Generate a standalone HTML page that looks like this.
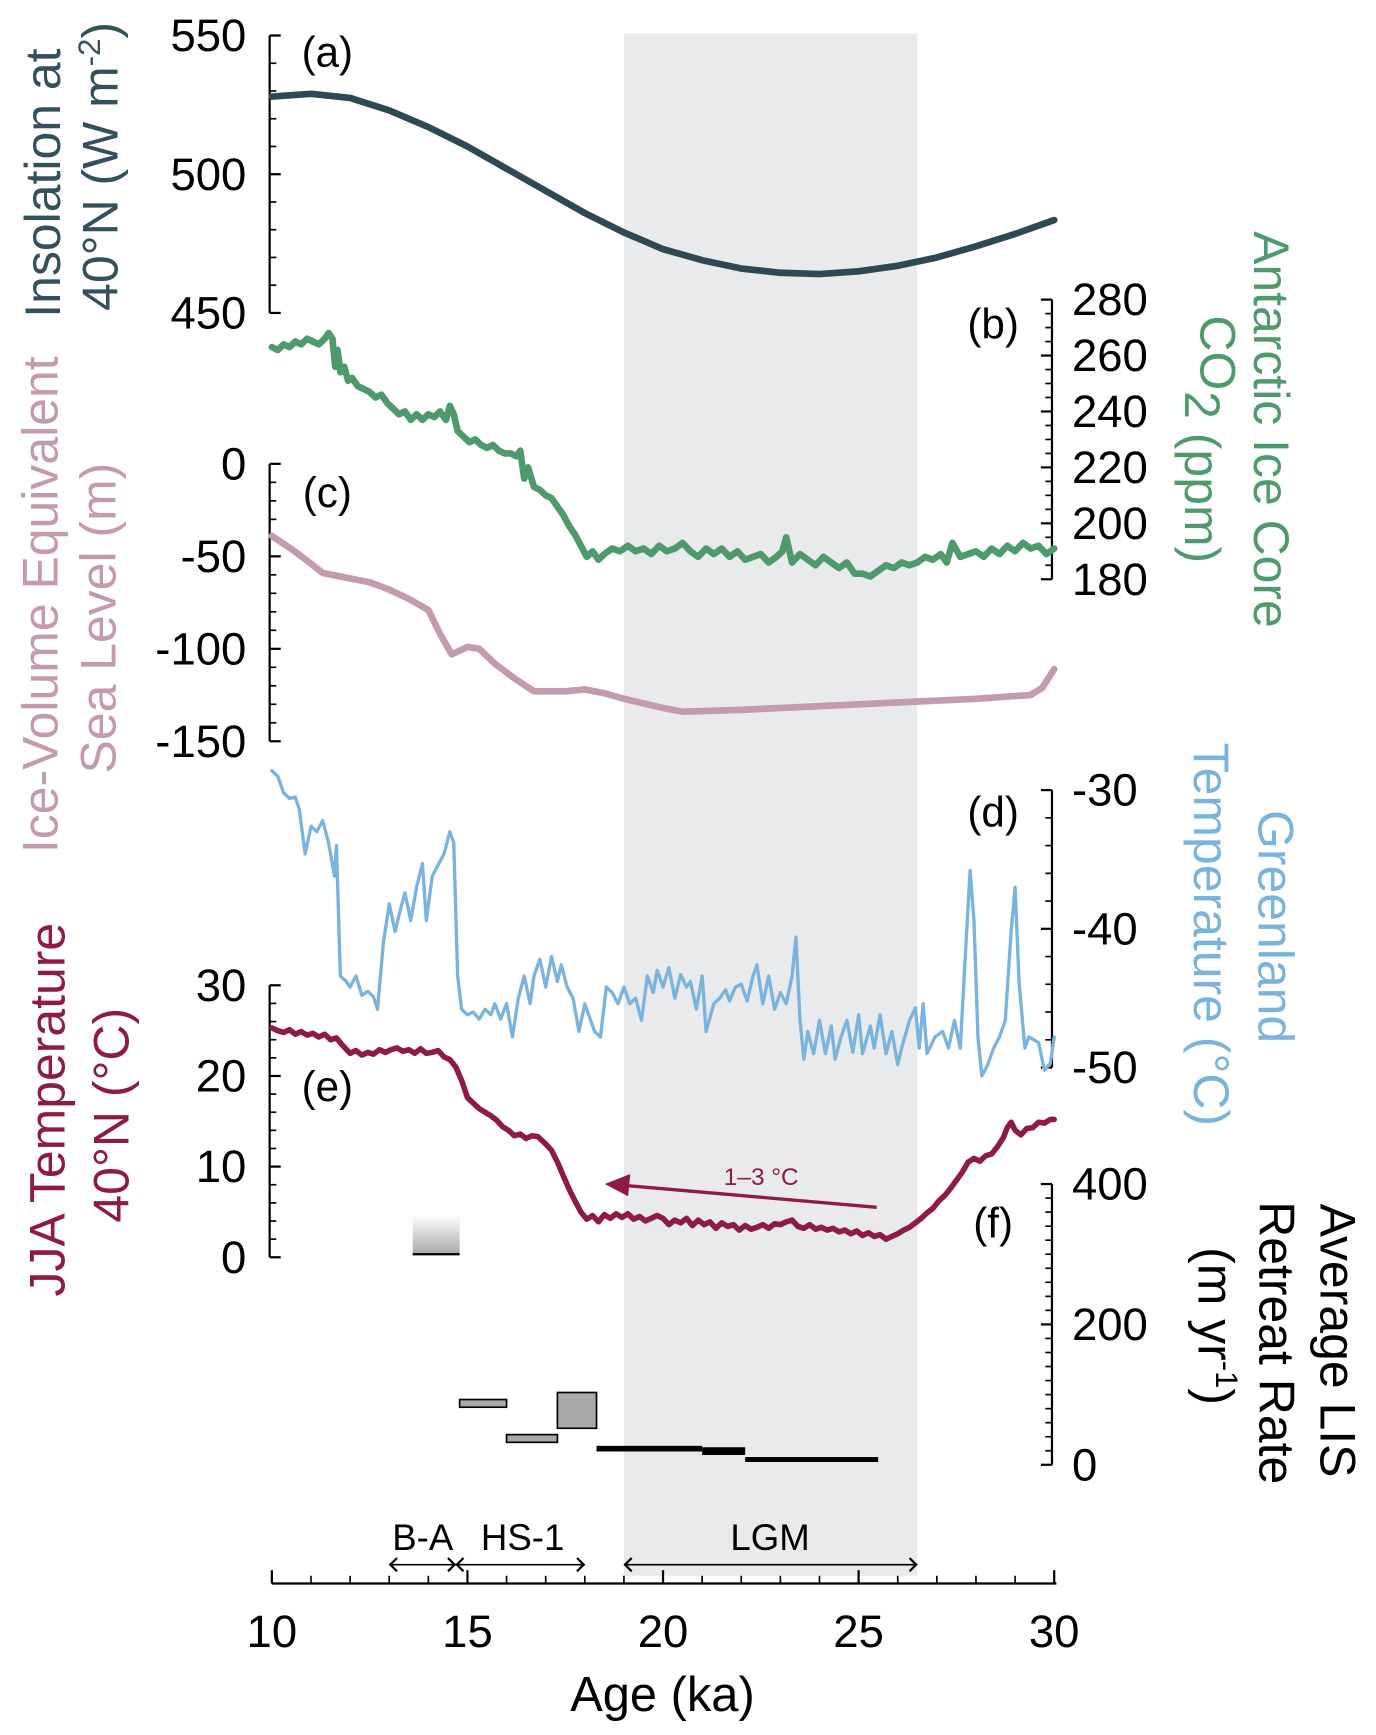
<!DOCTYPE html>
<html><head><meta charset="utf-8"><style>html,body{margin:0;padding:0;background:#fff}svg{display:block}text{font-family:"Liberation Sans",Arial,sans-serif}</style></head>
<body>
<svg id="chart" width="1376" height="1735" viewBox="0 0 1240 1563.5" preserveAspectRatio="none" xmlns="http://www.w3.org/2000/svg">
<defs><linearGradient id="gfade" x1="0" y1="0" x2="0" y2="1"><stop offset="0" stop-color="#fff"/><stop offset="1" stop-color="#a8a8a8"/></linearGradient></defs>
<rect id="lgm" fill="#e9eaec"/>
<g id="g"></g>
</svg>
<script>
const insAge=[10,11,12,13,14,15,16,17,18,19,20,21,22,23,24,25,26,27,28,29,30];
const insVal=[528,529,527.5,523,517,510,502,494,486,479,473,469,466,464.5,464,465,467,470,474,478.5,483.5];
const co2Age=[10,10.15,10.3,10.45,10.6,10.75,10.9,11.05,11.2,11.35,11.45,11.55,11.62,11.68,11.75,11.85,11.95,12.05,12.2,12.35,12.5,12.65,12.8,12.95,13.1,13.25,13.4,13.55,13.7,13.85,14.0,14.15,14.3,14.45,14.55,14.65,14.75,14.9,15.05,15.2,15.35,15.5,15.65,15.8,15.95,16.1,16.25,16.35,16.45,16.55,16.7,16.85,17.0,17.15,17.3,17.45,17.6,17.75,17.9,18.05,18.2,18.35,18.5,18.7,18.9,19.1,19.3,19.5,19.7,19.9,20.1,20.3,20.5,20.7,20.9,21.1,21.3,21.5,21.7,21.9,22.1,22.3,22.5,22.7,22.9,23.05,23.15,23.3,23.5,23.7,23.9,24.1,24.3,24.5,24.7,24.9,25.1,25.3,25.5,25.7,25.9,26.1,26.3,26.5,26.7,26.9,27.1,27.25,27.4,27.6,27.8,28.0,28.2,28.4,28.6,28.8,29.0,29.2,29.4,29.6,29.8,30];
const co2Val=[263,262,264,263,265,264,266,265,264,266,268,266,256,262,254,256,251,252,249,248,247,245,246,243,241,239,240,237,239,237,239,238,240,237,242,239,233,231,229,230,228,227,228,226,225,225,224,226,216,220,213,212,210,209,206,203,199,196,192,188,190,187,189,191,190,192,190,191,189,192,190,191,193,190,188,191,189,191,188,190,187,188,189,186,188,190,195,186,189,187,185,188,186,184,186,182,182,181,183,185,184,186,185,186,188,187,189,186,193,188,189,190,188,191,189,192,190,193,191,192,189,191];
const slAge=[10,10.5,11,11.3,12,12.5,13,13.5,14,14.3,14.6,15,15.3,15.7,16.2,16.7,17.5,18,18.5,19,20,20.5,22,25,28,29.4,29.7,30];
const slVal=[-39,-46,-54,-59,-62,-64,-68,-73,-79,-92,-103,-99,-100,-108,-116,-123,-123,-122,-124,-127,-132,-134,-133,-130,-127,-125,-121,-111];
const grAge=[10.0,10.15,10.3,10.45,10.6,10.7,10.85,11.0,11.15,11.3,11.45,11.6,11.65,11.75,11.9,12.0,12.15,12.3,12.45,12.6,12.7,12.85,13.0,13.15,13.25,13.4,13.55,13.7,13.85,13.95,14.1,14.25,14.4,14.55,14.65,14.75,14.85,15.0,15.15,15.3,15.45,15.6,15.7,15.85,16.0,16.15,16.3,16.45,16.6,16.7,16.85,17.0,17.15,17.3,17.4,17.55,17.7,17.85,18.0,18.1,18.25,18.4,18.55,18.7,18.85,19.0,19.15,19.3,19.45,19.6,19.75,19.85,20.0,20.15,20.3,20.45,20.6,20.7,20.85,21.0,21.1,21.3,21.45,21.6,21.7,21.85,22.0,22.15,22.3,22.4,22.55,22.7,22.85,23.0,23.15,23.3,23.4,23.5,23.6,23.7,23.85,24.0,24.15,24.3,24.4,24.55,24.7,24.85,25.0,25.1,25.3,25.4,25.55,25.7,25.85,26.0,26.1,26.3,26.45,26.55,26.65,26.75,26.95,27.15,27.3,27.45,27.6,27.7,27.85,27.95,28.05,28.15,28.3,28.45,28.6,28.75,28.9,29.0,29.1,29.25,29.35,29.6,29.75,29.9,30.0];
const grVal=[-28.6,-29.0,-30.2,-30.6,-30.5,-31.4,-34.6,-32.6,-33.0,-32.2,-33.8,-36.2,-34.0,-43.4,-43.8,-44.2,-43.4,-44.8,-44.5,-44.9,-45.8,-41.0,-38.2,-40.2,-39.0,-37.4,-39.4,-37.0,-35.3,-39.4,-36.2,-35.4,-34.6,-33.0,-33.8,-43.4,-45.8,-46.2,-46.0,-46.5,-45.8,-46.2,-45.4,-46.5,-45.4,-47.8,-45.0,-43.4,-45.4,-43.4,-42.2,-44.2,-42.0,-43.8,-42.6,-44.2,-45.0,-47.4,-45.4,-46.2,-47.4,-47.8,-44.2,-44.6,-45.4,-44.2,-45.4,-45.0,-46.6,-43.4,-44.6,-43.0,-44.2,-42.8,-45.0,-43.3,-44.2,-43.8,-45.8,-43.4,-47.4,-45.4,-45.0,-44.4,-45.2,-44.2,-44.0,-45.2,-43.4,-42.6,-45.4,-43.4,-45.8,-44.6,-45.4,-43.4,-40.6,-46.6,-49.4,-47.4,-49.0,-46.6,-49.0,-47.0,-49.4,-47.8,-46.6,-48.9,-46.2,-49.0,-47.0,-48.6,-46.2,-49.0,-47.4,-49.8,-48.6,-46.6,-45.7,-48.6,-45.4,-49.0,-47.8,-47.4,-48.6,-46.6,-48.6,-43.4,-35.8,-39.4,-47.8,-50.6,-49.8,-48.6,-47.8,-46.6,-40.2,-37.0,-43.8,-48.6,-47.8,-48.2,-50.2,-49.7,-47.8];
const jjaAge=[10,10.15,10.3,10.45,10.6,10.75,10.9,11.05,11.2,11.35,11.5,11.65,11.8,12.0,12.15,12.3,12.45,12.6,12.75,12.9,13.05,13.2,13.35,13.5,13.65,13.8,13.95,14.1,14.25,14.4,14.55,14.7,14.85,15.0,15.15,15.3,15.45,15.6,15.75,15.9,16.05,16.2,16.35,16.5,16.65,16.8,17.0,17.15,17.3,17.45,17.6,17.75,17.9,18.05,18.2,18.35,18.5,18.65,18.8,18.95,19.1,19.25,19.4,19.55,19.7,19.85,20.0,20.15,20.3,20.45,20.6,20.75,20.9,21.05,21.2,21.35,21.5,21.65,21.8,21.95,22.1,22.25,22.4,22.55,22.7,22.85,23.0,23.15,23.3,23.45,23.6,23.75,23.9,24.05,24.2,24.35,24.5,24.65,24.8,24.95,25.1,25.25,25.4,25.55,25.7,25.85,26.0,26.15,26.3,26.45,26.6,26.75,26.9,27.05,27.2,27.35,27.5,27.65,27.8,27.95,28.1,28.25,28.4,28.55,28.7,28.8,28.9,29.0,29.15,29.3,29.45,29.6,29.75,29.9,30];
const jjaVal=[25.3,25.0,24.8,25.1,24.6,24.9,24.5,24.7,24.3,24.6,24.0,24.2,23.4,22.5,22.8,22.3,22.6,22.4,22.9,22.6,22.9,23.1,22.7,22.9,22.5,23.0,22.5,22.6,22.8,22.1,21.8,21.0,19.5,17.6,17.0,16.4,16.0,15.6,15.1,14.4,14.0,13.4,13.6,13.1,13.4,13.3,12.5,11.8,10.5,9.0,7.5,6.2,5.0,4.2,4.6,3.9,4.7,4.3,4.8,4.4,4.8,4.2,4.5,4.0,4.3,4.6,4.3,3.6,4.1,3.8,4.3,3.5,4.1,3.6,3.9,3.2,3.8,3.4,3.6,3.0,3.5,3.1,3.3,3.6,3.2,3.7,3.6,3.9,4.1,3.4,3.2,3.6,3.1,3.3,3.0,3.2,2.8,3.0,2.6,2.9,2.4,2.7,2.3,2.5,2.0,2.3,2.6,3.0,3.3,3.8,4.3,4.9,5.4,6.2,6.8,7.6,8.5,9.4,10.5,10.9,10.6,11.2,11.4,12.2,13.2,14.3,14.9,14.0,13.5,14.2,14.3,14.9,14.8,15.2,15.2];
const lisStart=[13.6,14.8,16.0,17.3,18.3,21.0,22.1];
const lisEnd=[14.8,16.0,17.3,18.3,21.0,22.1,25.5];
const lisHigh=[356,93,43,103,27,25,11];
const lisLow=[300,82,32,52,19,14,4];

const NS='http://www.w3.org/2000/svg';
const G=document.getElementById('g');
const X=a=>245+(a-10)*35.25;
const Ya=v=>32+(550-v)*2.5, Yb=v=>270+(280-v)*2.52, Yc=v=>418-v*1.6667, Yd=v=>712+(-30-v)*12.5, Ye=v=>1133-v*8.17, Yf=v=>1320-v*0.6325;
function mk(t,attrs,parent){const e=document.createElementNS(NS,t);for(const k in attrs)e.setAttribute(k,attrs[k]);(parent||G).appendChild(e);return e;}
function txt(s,x,y,size,fill,anchor,rot){const e=mk('text',{x:x,y:y,'font-size':size,fill:fill,'text-anchor':anchor||'start'});if(rot)e.setAttribute('transform','rotate('+rot+' '+x+' '+y+')');e.textContent=s;return e;}

const lgm=document.getElementById('lgm');
lgm.setAttribute('x',X(19));lgm.setAttribute('y',30);lgm.setAttribute('width',X(26.5)-X(19));lgm.setAttribute('height',1390);

function axis(name,side,yf,min,max,minor,major,labels){
  const gx=mk('g',{});
  
  
  const x=side==='l'?243:948, d=side==='l'?1:-1;
  mk('line',{x1:x,x2:x,y1:yf(max),y2:yf(min),stroke:'#000','stroke-width':2},gx);
  for(let v=min;v<=max+1e-6;v+=minor){const isM=Math.abs((v-min)%major)<1e-6||Math.abs((v-min)%major-major)<1e-6;
    mk('line',{x1:x,x2:x+d*(isM?10:6),y1:yf(v),y2:yf(v),stroke:'#000','stroke-width':isM?2:1.5},gx);}
  labels.forEach(v=>{const t=txt(String(v),side==='l'?222:966,yf(v)+14,41,'#000',side==='l'?'end':'start');gx.appendChild(t);});
}
function line(name,ages,vals,yf,color,w){
  const p=mk('path',{d:ages.map((a,i)=>(i?'L':'M')+X(a).toFixed(1)+' '+yf(vals[i]).toFixed(1)).join(' '),fill:'none',stroke:color,'stroke-width':w,'stroke-linejoin':'round','stroke-linecap':'round'});
  
  
}
axis('insolation-axis','l',Ya,450,550,10,50,[550,500,450]);
axis('co2-axis','r',Yb,180,280,5,20,[280,260,240,220,200,180]);
axis('sea-level-axis','l',Yc,-150,0,10,50,[0,-50,-100,-150]);
axis('greenland-axis','r',Yd,-50,-30,2,10,[-30,-40,-50]);
axis('jja-axis','l',Ye,0,30,2,10,[30,20,10,0]);
axis('lis-axis','r',Yf,0,400,20,200,[400,200,0]);

line('insolation-line',insAge,insVal,Ya,'#2f4954',6);
line('co2-line',co2Age,co2Val,Yb,'#4f9a6c',6);
line('sea-level-line',slAge,slVal,Yc,'#c49aae',6);
line('greenland-line',grAge,grVal,Yd,'#7ab3dc',3);
line('jja-line',jjaAge,jjaVal,Ye,'#8e1a45',5);

lisStart.forEach((s,i)=>{
  const x=X(s),w=X(lisEnd[i])-x,y=Yf(lisHigh[i]),h=Yf(lisLow[i])-y;
  let r;
  if(i===0){r=mk('rect',{x:x,y:y,width:w,height:h,fill:'url(#gfade)'});mk('line',{x1:x,x2:x+w,y1:y+h,y2:y+h,stroke:'#000','stroke-width':2});}
  else if(i>=4){r=mk('rect',{x:x,y:y,width:w,height:h,fill:'#000'});}
  else r=mk('rect',{x:x,y:y,width:w,height:h,fill:'#a9a9a9',stroke:'#000','stroke-width':1.5});
  
  
});

mk('line',{x1:790,y1:1088,x2:560,y2:1068,stroke:'#8e1a45','stroke-width':3});
mk('polygon',{points:'545,1067 568,1058 566,1078',fill:'#8e1a45'});
txt('1–3 °C',686,1068,22,'#8e1a45','middle');

[['(a)',295,60],['(b)',895,305],['(c)',295,457],['(d)',895,745],['(e)',295,992],['(f)',895,1115]].forEach(p=>{const t=txt(p[0],p[1],p[2],38,'#000','middle');});

txt('Insolation at',54,165,45,'#34505c','middle',-90);
const t2=txt('40°N (W m',106,150,45,'#34505c','middle',-90);const sp=mk('tspan',{dy:-16,'font-size':28},t2);sp.textContent='-2';const sp2=mk('tspan',{dy:16},t2);sp2.textContent=')';
txt('Ice-Volume Equivalent',52,545,45,'#c49aae','middle',-90);
txt('Sea Level (m)',104,557,45,'#c49aae','middle',-90);
txt('JJA Temperature',58,1000,45,'#8e1a45','middle',-90);
txt('40°N (°C)',116,1005,45,'#8e1a45','middle',-90);
txt('Antarctic Ice Core',1130,387,45,'#4f9a6c','middle',90);
txt('CO',1082,318,45,'#4f9a6c','middle',90);
txt('2 (ppm)',1068,430,45,'#4f9a6c','middle',90);
txt('Greenland',1134,835,45,'#7ab3dc','middle',90);
txt('Temperature (°C)',1076,842,45,'#7ab3dc','middle',90);
txt('Average LIS',1190,1208,45,'#000','middle',90);
txt('Retreat Rate',1135,1210,45,'#000','middle',90);
const l3=txt('(m yr',1080,1195,45,'#000','middle',90);const ls=mk('tspan',{dy:-16,'font-size':28},l3);ls.textContent='-1';const ls2=mk('tspan',{dy:16},l3);ls2.textContent=')';

const xa=mk('g',{});


mk('line',{x1:245,x2:952,y1:1427,y2:1427,stroke:'#000','stroke-width':2},xa);
for(let a=10;a<=30;a++){const M=a%5===0;mk('line',{x1:X(a),x2:X(a),y1:1427,y2:1427-(M?12:7),stroke:'#000','stroke-width':M?2:1.5},xa);}
[10,15,20,25,30].forEach(a=>{xa.appendChild(txt(String(a),X(a),1484,41,'#000','middle'));});
const xt=txt('Age (ka)',597,1542,44,'#000','middle');



function parrow(a1,a2,label,lx){
  const x1=X(a1),x2=X(a2),y=1410;
  mk('line',{x1:x1,x2:x2,y1:y,y2:y,stroke:'#000','stroke-width':1.5});
  mk('path',{d:`M${x1+7} ${y-6} L${x1+1} ${y} L${x1+7} ${y+6} M${x2-7} ${y-6} L${x2-1} ${y} L${x2-7} ${y+6}`,fill:'none',stroke:'#000','stroke-width':2});
  const t=txt(label,lx,1397,33,'#000','middle');
  
  
}
parrow(13,14.7,'B-A',381);
parrow(14.7,18,'HS-1',471);
parrow(19,26.5,'LGM',694);
</script>
</body></html>
